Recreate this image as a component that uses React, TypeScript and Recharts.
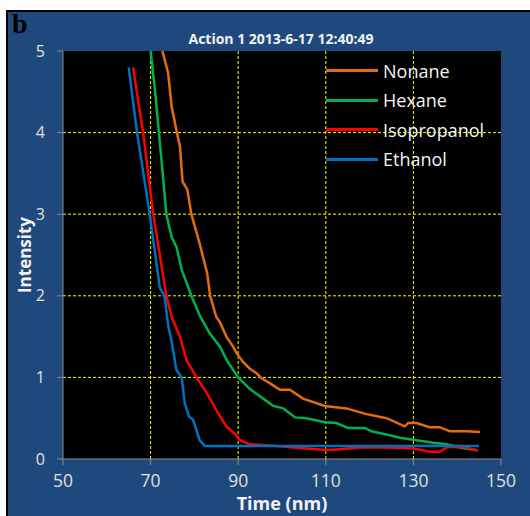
import { LineChart, Line, XAxis, YAxis, ReferenceLine, ReferenceArea, Legend } from 'recharts'

// (time in nm, intensity)
const nonaneTime = [72.7, 74.0, 74.8, 76.0, 76.7, 77.3, 78.4, 79.3, 81.2, 82.9, 83.6, 85.0, 85.8, 87.3, 88.8, 89.6, 91.1, 92.6, 94.2, 95.3, 97.2, 99.5, 101.8, 104.8, 109.8, 114.7, 119.3, 123.9, 128.0, 128.8, 130.7, 133.7, 136.0, 138.3, 142.1, 145.2]
const nonaneValue = [5.0, 4.73, 4.32, 4.0, 3.83, 3.4, 3.3, 3.0, 2.64, 2.28, 2.0, 1.74, 1.68, 1.5, 1.38, 1.3, 1.19, 1.11, 1.05, 0.99, 0.93, 0.85, 0.85, 0.74, 0.65, 0.62, 0.55, 0.5, 0.4, 0.44, 0.44, 0.39, 0.39, 0.34, 0.34, 0.33]

const hexaneTime = [70.0, 71.0, 71.9, 72.9, 73.6, 74.8, 75.9, 77.1, 79.3, 81.2, 83.5, 85.8, 87.5, 90.0, 92.6, 95.7, 98.0, 100.3, 103.0, 105.6, 109.8, 112.4, 115.1, 118.9, 120.4, 124.6, 126.9, 130.7, 134.5, 137.6, 141.4, 144.4]
const hexaneValue = [5.0, 4.52, 4.0, 3.42, 3.0, 2.72, 2.6, 2.32, 2.0, 1.76, 1.54, 1.38, 1.2, 1.0, 0.86, 0.74, 0.65, 0.62, 0.51, 0.5, 0.45, 0.44, 0.38, 0.38, 0.34, 0.29, 0.26, 0.23, 0.2, 0.18, 0.13, 0.11]

const isopropanolTime = [66.0, 68.3, 70.6, 73.6, 74.8, 76.7, 78.2, 80.5, 82.8, 85.0, 87.3, 89.6, 90.4, 92.6, 96.5, 102.5, 110.2, 113.2, 117.8, 123.9, 129.9, 133.7, 136.0, 137.9, 142.1, 144.8]
const isopropanolValue = [4.8, 4.0, 3.0, 2.0, 1.74, 1.5, 1.21, 1.0, 0.81, 0.6, 0.4, 0.29, 0.23, 0.18, 0.17, 0.14, 0.11, 0.12, 0.14, 0.14, 0.13, 0.09, 0.09, 0.15, 0.14, 0.1]

const ethanolTime = [65.0, 66.9, 69.8, 72.1, 73.2, 74.0, 74.8, 75.9, 77.1, 77.8, 78.8, 79.7, 81.2, 82.4, 100, 120, 145]
const ethanolValue = [4.8, 4.0, 3.0, 2.1, 1.99, 1.64, 1.44, 1.09, 1.0, 0.68, 0.52, 0.48, 0.23, 0.16, 0.16, 0.16, 0.16]

const xTicks = [50, 70, 90, 110, 130, 150]
const yTicks = [0, 1, 2, 3, 4, 5]
const xGrid = [70, 90, 110, 130]
const yGrid = [1, 2, 3, 4]

const zip = (t: number[], v: number[]) => t.map((time, i) => ({ time, value: v[i] }))

const series = [
  { name: 'Nonane', color: '#E46C0A', data: zip(nonaneTime, nonaneValue) },
  { name: 'Hexane', color: '#00B050', data: zip(hexaneTime, hexaneValue) },
  { name: 'Isopropanol', color: '#FF0000', data: zip(isopropanolTime, isopropanolValue) },
  { name: 'Ethanol', color: '#0070C0', data: zip(ethanolTime, ethanolValue) },
]

const FONT = '"Open Sans", sans-serif'

// legend keeps the series order (recharts would sort it by name)
function LegendBox() {
  return (
    <div style={{ fontFamily: FONT }}>
      {series.map((s) => (
        <div key={s.name} style={{ display: 'flex', alignItems: 'center', height: 29.5 }}>
          <div style={{ width: 52, height: 3, background: s.color }} />
          <span style={{ marginLeft: 5, color: '#F2F2F2', fontSize: 18 }}>{s.name}</span>
        </div>
      ))}
    </div>
  )
}

export default function App() {
  return (
    <div style={{ position: 'absolute', left: 0, top: 0, width: 530, height: 516, background: '#fff', overflow: 'hidden' }}>
      <div
        style={{
          position: 'absolute', left: 6, top: 10, width: 524, height: 506,
          background: '#1F497D', borderLeft: '2px solid #000', borderTop: '2px solid #000', boxSizing: 'border-box',
        }}
      />
      <div style={{ position: 'absolute', left: 12, top: 8, fontFamily: '"Liberation Serif", serif', fontWeight: 'bold', fontSize: 28, color: '#000' }}>
        b
      </div>
      <div style={{ position: 'absolute', left: 131, top: 29, width: 300, textAlign: 'center', fontFamily: FONT, fontWeight: 'bold', fontSize: 14, color: '#F2F2F2' }}>
        Action 1 2013-6-17 12:40:49
      </div>
      <div style={{ position: 'absolute', left: 0, top: 0 }}>
        <LineChart width={530} height={516} margin={{ top: 51, right: 29, bottom: 27, left: 0 }}>
          <XAxis
            dataKey="time"
            type="number"
            domain={[50, 150]}
            ticks={xTicks}
            allowDuplicatedCategory={false}
            height={30}
            stroke="#8C8C8C"
            tickSize={6}
            tickMargin={10}
            tick={{ fill: '#E0E0E0', fontSize: 17.5, fontFamily: FONT }}
            label={{ value: 'Time (nm)', position: 'bottom', offset: 0, dy: 8, fill: '#F2F2F2', fontSize: 18, fontWeight: 'bold', fontFamily: FONT }}
          />
          <YAxis
            type="number"
            domain={[0, 5]}
            ticks={yTicks}
            width={63}
            stroke="#8C8C8C"
            tickSize={6}
            tickMargin={12}
            tick={{ fill: '#E0E0E0', fontSize: 16, fontFamily: FONT }}
            label={{ value: 'Intensity', angle: -90, position: 'insideLeft', offset: 25, style: { textAnchor: 'middle' }, fill: '#F2F2F2', fontSize: 17, fontWeight: 'bold', fontFamily: FONT }}
          />
          <ReferenceArea x1={50} x2={150} y1={0} y2={5} fill="#000" fillOpacity={1} stroke="none" />
          {xGrid.map((v) => (
            <ReferenceLine key={`x-${v}`} x={v} stroke="#FFFF00" strokeDasharray="3 2" />
          ))}
          {yGrid.map((v) => (
            <ReferenceLine key={`y-${v}`} y={v} stroke="#FFFF00" strokeDasharray="3 2" />
          ))}
          {series.map((s) => (
            <Line
              key={s.name}
              data={s.data}
              dataKey="value"
              name={s.name}
              stroke={s.color}
              strokeWidth={2.5}
              dot={false}
              type="linear"
              isAnimationActive={false}
            />
          ))}
          <Legend
            layout="vertical"
            verticalAlign="middle"
            align="center"
            content={<LegendBox />}
            wrapperStyle={{ position: 'absolute', left: 326, top: 56, width: 175, right: 'auto', bottom: 'auto' }}
          />
        </LineChart>
      </div>
    </div>
  )
}
